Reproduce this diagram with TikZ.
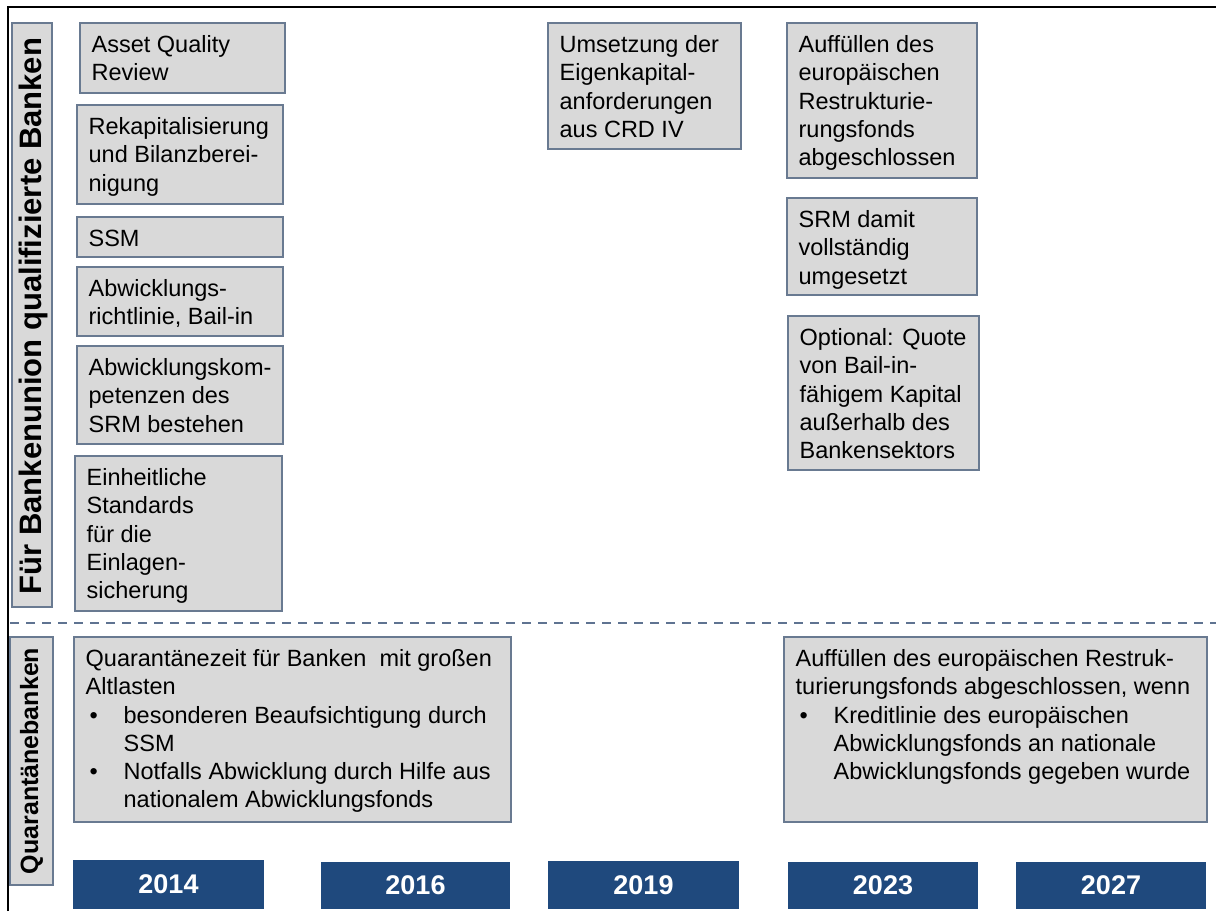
\documentclass[tikz,border=0pt]{standalone}
\usepackage{fontspec}
\setmainfont{Liberation Sans}
\usetikzlibrary{fit}
\definecolor{boxfill}{RGB}{217,217,217}
\definecolor{boxline}{RGB}{105,122,145}
\definecolor{yearblue}{RGB}{31,73,125}
\definecolor{dashcol}{RGB}{95,115,145}
\newcommand{\bulitem}{\makebox[19pt][l]{\hspace{2pt}•}}
\newcommand{\bulind}{\hspace*{19pt}}
\begin{document}
\begin{tikzpicture}[x=0.5pt,y=-0.5pt,
  box/.style={draw=boxline, fill=boxfill, line width=0.75pt, inner sep=0pt},
  txt/.style={anchor=north west, inner sep=0pt, align=left,
    font=\fontsize{11.75}{14.15}\selectfont, xshift=6pt, yshift=-5pt},
  vlab/.style={rotate=90, inner sep=0pt, font=\bfseries\fontsize{12.5}{15}\selectfont},
  yearbox/.style={fill=yearblue, draw=none, inner sep=0pt},
  yeartxt/.style={text=white, inner sep=0pt, font=\bfseries\fontsize{13.5}{16}\selectfont}
]
\useasboundingbox (0,0) rectangle (1216,911);
\fill[white] (0,0) rectangle (1216,911);
% frame
\draw[line width=1pt] (8,911) -- (8,7) -- (1216,7);
% side labels
\node[box, fit={(12,23) (52,607)}] (lab1) {};
\node[vlab, font=\bfseries\fontsize{15.5}{18}\selectfont] (lab1t) at (33,316) {Für Bankenunion qualifizierte Banken};
\node[box, fit={(10,637) (53,885)}] (lab2) {};
\node[vlab] (lab2t) at (lab2.center) {Quarantänebanken};
% dashed separator
\coordinate (dL) at (10,623);
\coordinate (dR) at (1216,623);
\draw[dashcol, line width=1pt, dash pattern=on 4.5pt off 3.5pt] (dL) -- (dR);
% 2014 column
\node[box, fit={(80,23) (285,93)}] (aqr) {};
\node[txt] (aqrt) at (aqr.north west) {\strut Asset Quality\\Review};
\node[box, fit={(77,105) (283,204)}] (rek) {};
\node[txt] (rekt) at (rek.north west) {\strut Rekapitalisierung\\und Bilanzberei-\\nigung};
\node[box, fit={(77,217) (283,257)}] (ssm) {};
\node[txt, yshift=0pt] (ssmt) at (ssm.north west) {\strut SSM};
\node[box, fit={(77,267) (283,336)}] (abw) {};
\node[txt] (abwt) at (abw.north west) {\strut Abwicklungs-\\richtlinie, Bail-in};
\node[box, fit={(77,346) (283,444)}] (abwk) {};
\node[txt] (abwkt) at (abwk.north west) {\strut Abwicklungskom-\\petenzen des\\SRM bestehen};
\node[box, fit={(75,456) (282,611)}] (einh) {};
\node[txt] (einht) at (einh.north west) {\strut Einheitliche\\Standards\\für die\\Einlagen-\\sicherung};
% 2019 column
\node[box, fit={(548,23) (741,149)}] (ums) {};
\node[txt] (umst) at (ums.north west) {\strut Umsetzung der\\Eigenkapital-\\anforderungen\\aus CRD IV};
% 2023 column
\node[box, fit={(787,23) (977,178)}] (auf) {};
\node[txt] (auft) at (auf.north west) {\strut Auffüllen des\\europäischen\\Restrukturie-\\rungsfonds\\abgeschlossen};
\node[box, fit={(787,198) (977,295)}] (srm) {};
\node[txt] (srmt) at (srm.north west) {\strut SRM damit\\vollständig\\umgesetzt};
\node[box, fit={(788,316) (979,470)}] (opt) {};
\node[txt] (optt) at (opt.north west) {\strut Optional: Quote\\von Bail-in-\\fähigem Kapital\\außerhalb des\\Bankensektors};
% quarantine boxes
\node[box, fit={(74,637) (511,822)}] (qb) {};
\node[txt] (qbt) at (qb.north west) {\strut Quarantänezeit für Banken\ \ mit großen\\Altlasten\\
  \bulitem besonderen Beaufsichtigung durch\\\bulind SSM\\
  \bulitem Notfalls Abwicklung durch Hilfe aus\\\bulind nationalem Abwicklungsfonds};
\node[box, fit={(784,637) (1207,822)}] (qb2) {};
\node[txt] (qb2t) at (qb2.north west) {\strut Auffüllen des europäischen Restruk-\\turierungsfonds abgeschlossen, wenn\\
  \bulitem Kreditlinie des europäischen\\\bulind Abwicklungsfonds an nationale\\\bulind Abwicklungsfonds gegeben wurde};
% years
\node[yearbox, fit={(73,860) (264,909)}] (y14) {};
\node[yeartxt] (y14t) at (y14.center) {2014};
\node[yearbox, fit={(321,862) (510,909)}] (y16) {};
\node[yeartxt] (y16t) at (y16.center) {2016};
\node[yearbox, fit={(548,861) (739,909)}] (y19) {};
\node[yeartxt] (y19t) at (y19.center) {2019};
\node[yearbox, fit={(788,862) (978,909)}] (y23) {};
\node[yeartxt] (y23t) at (y23.center) {2023};
\node[yearbox, fit={(1016,862) (1206,909)}] (y27) {};
\node[yeartxt] (y27t) at (y27.center) {2027};
\end{tikzpicture}
\end{document}
